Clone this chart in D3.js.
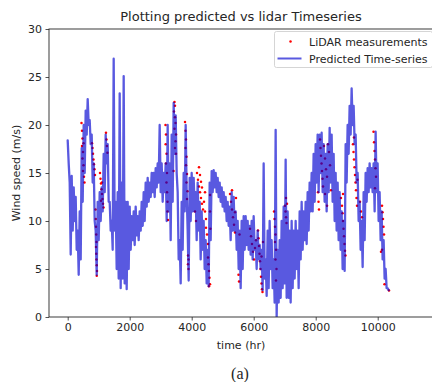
<!DOCTYPE html>
<html>
<head>
<meta charset="utf-8">
<script src="https://cdn.jsdelivr.net/npm/d3@7"></script>
<style>
  body { margin: 0; background: #fff; }
  svg { display: block; }
  text { font-family: "DejaVu Sans", sans-serif; fill: #262626; }
</style>
</head>
<body>
<svg id="chart" width="432" height="382"></svg>
<script>
// Axis ticks
const xTicks = [0, 2000, 4000, 6000, 8000, 10000];
const yTicks = [0, 5, 10, 15, 20, 25, 30];

// Predicted wind speed (m/s), one value every sampleStepHr hours from t = 0
const sampleStepHr = 32.25;
const predictedSpeed = [
  18.4,16.0, 14.0,6.5, 14.7,9.0, 13.5,10.0, 12.5,7.0, 9.0,4.4, 11.0,6.0, 17.6,12.0, 20.0,15.0, 21.5,19.0,
  22.7,20.0, 20.5,18.0, 19.0,14.0, 16.0,10.0, 9.0,4.4, 12.0,8.0, 13.0,10.0, 13.5,11.0, 17.0,13.0, 19.0,16.0,
  18.0,12.0, 12.0,9.0, 10.0,7.0, 26.9,9.0, 12.0,5.0, 13.0,4.0, 23.3,3.0, 14.0,4.0, 25.1,3.5, 12.0,2.9,
  12.0,5.0, 11.5,7.0, 10.5,8.0, 11.0,7.5, 11.5,8.5, 10.5,8.0, 11.0,9.0, 12.0,9.5, 13.0,10.0, 14.0,11.5,
  14.5,12.0, 14.0,12.5, 15.0,13.0, 15.0,12.5, 15.5,13.5, 16.0,14.0, 20.0,13.0, 16.0,12.0, 15.0,13.0, 16.0,10.0,
  20.0,11.0, 16.0,8.0, 19.0,12.0, 22.3,17.0, 21.0,15.0, 13.0,6.0, 8.0,3.5, 12.0,7.0, 15.0,11.0, 20.0,13.0,
  9.0,3.8, 14.5,10.0, 15.0,11.0, 14.5,11.0, 13.0,8.0, 14.0,9.0, 12.0,6.0, 11.0,7.0, 10.0,5.0, 8.0,3.5,
  7.0,3.2, 14.0,8.0, 15.2,13.0, 15.3,13.5, 15.0,13.0, 14.5,12.5, 14.0,12.0, 13.5,11.5, 13.0,11.0, 12.5,10.0,
  12.0,9.5, 11.5,8.0, 13.0,9.0, 12.5,9.0, 11.0,7.0, 10.0,5.0, 9.0,3.0, 10.0,5.0, 10.5,7.0, 10.5,7.5,
  10.0,7.0, 9.5,6.5, 10.0,6.0, 10.5,7.0, 8.0,5.0, 9.0,6.0, 7.5,5.0, 7.0,2.8, 16.0,4.0, 6.0,2.2,
  9.0,3.0, 10.0,5.0, 8.0,3.0, 6.0,1.5, 19.5,0.0, 7.0,1.5, 8.0,2.0, 10.0,3.0, 11.5,3.5, 16.4,2.0,
  11.0,2.0, 9.0,1.5, 10.0,3.0, 9.0,4.0, 10.0,5.0, 9.0,3.0, 11.0,6.0, 12.0,7.0, 11.0,8.0, 12.0,7.6,
  13.0,9.0, 14.0,11.0, 15.0,11.0, 17.0,12.0, 18.0,14.0, 19.0,13.0, 19.0,15.0, 19.2,13.0, 18.0,12.0, 17.0,11.0,
  18.0,13.0, 19.7,14.0, 19.0,12.0, 17.0,10.0, 15.0,9.0, 14.0,8.0, 13.0,7.0, 11.0,5.0, 10.0,4.8, 18.0,14.0,
  20.0,17.0, 22.0,19.0, 23.8,20.0, 22.0,18.0, 19.0,14.0, 15.0,10.0, 12.0,7.0, 10.0,5.2, 13.0,8.0, 15.0,12.0,
  15.5,13.0, 16.0,13.5, 15.5,13.0, 16.0,11.0, 19.3,13.0, 16.0,10.0, 13.0,8.0, 11.0,6.0, 8.0,4.0, 5.0,3.0,
  3.0,2.8
];

// LiDAR measurements: time (hr) and wind speed (m/s)
const lidarTime = [
  445,461,477,461,494,477,510,494,526,542,510,
  784,800,816,832,848,864,881,
  897,905,913,921,929,913,921,929,937,945,937,
  1042,1058,1074,1090,1106,1122,1139,1155,1074,1106,
  1235,1250,1266,1282,
  3155,3171,3160,3187,3171,3203,3187,3203,3219,3219,3235,
  3445,3461,3429,3461,3478,3445,3494,3478,3461,3494,3413,
  3784,3800,3816,3800,3832,3816,3848,3832,3864,3848,3881,3881,3897,3897,
  4106,4138,4171,4203,4235,4268,4300,4332,4365,4235,4268,4300,4332,4397,4429,4461,4429,4461,4494,4526,
  4526,4542,4558,4574,4590,4558,4590,4590,4603,
  5235,5268,5300,5332,5365,5397,5300,5429,5397,
  5526,5510,5542,
  5881,5913,5945,5977,6010,6042,6074,
  6139,6155,6171,6187,6203,6220,6236,6252,6268,6284,6252,6300,
  6655,6671,6687,6703,6687,6719,6703,6735,6719,
  7010,7026,7042,7058,7042,7074,
  8074,8090,8106,8139,8155,8171,8187,8203,8220,8236,8268,8300,8332,8365,8397,8429,8461,8300,8365,8494,
  8816,8848,8864,8881,8897,8913,8929,8945,8961,8881,
  9203,9219,9235,9252,9268,9284,9300,9316,9332,9235,9348,
  9429,9461,9494,
  9865,9881,9897,9913,9929,9945,9913,
  10139,10155,10171,10187,10203,10106,10139,10219,
  10365
];
const lidarSpeed = [
  20.2,19.4,18.6,17.8,17.2,16.5,15.8,15.2,14.6,14.0,18.1,
  18.1,17.6,17.0,16.4,15.9,15.4,14.8,
  11.2,10.2,9.4,8.6,7.8,7.3,6.6,6.0,5.4,4.8,4.3,
  15.0,14.4,13.9,13.3,12.8,12.3,11.8,11.4,12.1,14.0,
  19.2,18.5,17.8,17.1,
  20.0,19.0,18.0,17.0,16.0,15.0,14.0,13.0,12.0,11.0,10.1,
  22.4,22.0,21.4,20.8,20.2,19.6,19.0,18.3,17.6,17.0,15.2,
  20.3,19.4,18.5,17.6,16.7,15.8,14.9,14.0,13.1,12.3,6.4,5.5,5.0,6.0,
  11.0,10.0,15.0,14.3,13.6,13.0,12.4,11.8,11.2,15.6,14.8,14.1,13.5,12.0,11.0,10.2,13.0,9.3,8.6,7.6,
  6.2,5.5,4.8,4.1,3.4,3.2,12.7,11.0,9.2,
  12.8,12.0,11.2,10.4,9.6,8.8,13.2,12.4,10.9,
  3.7,4.4,8.6,
  9.2,8.4,7.6,6.8,6.0,7.2,8.0,
  9.0,8.2,7.4,6.6,5.8,5.0,4.2,3.5,2.9,2.6,6.3,7.8,
  11.0,10.2,9.4,8.6,7.8,7.0,6.0,5.0,3.8,
  11.6,11.0,10.4,9.8,12.4,11.8,
  13.0,12.0,11.2,18.5,17.6,16.8,16.0,15.2,14.4,13.6,17.8,16.5,15.4,14.6,18.0,17.2,15.8,12.8,11.6,13.2,
  12.4,11.6,10.8,10.0,9.2,8.4,7.6,6.9,6.4,12.8,
  18.0,17.2,16.4,15.6,14.8,14.0,13.2,12.4,11.6,18.7,14.3,
  12.0,11.0,10.4,
  19.3,18.2,17.3,16.4,15.5,14.6,13.4,
  11.6,10.9,10.2,9.4,8.6,6.8,7.0,3.4,
  2.75
];

const legendLabels = ["LiDAR measurements", "Predicted Time-series"];

const lineColor = "#0000d0";
const lineOpacity = 0.65;
const dotColor = "#ff0000";

const svg = d3.select("#chart");
const plot = { left: 49, top: 29, right: 435, bottom: 317 };

const x = d3.scaleLinear().domain([-603, 11848]).range([plot.left, plot.right]);
const y = d3.scaleLinear().domain([0, 30]).range([plot.bottom, plot.top]);

svg.append("defs").append("clipPath").attr("id", "plot-clip")
  .append("rect")
  .attr("x", plot.left).attr("y", plot.top)
  .attr("width", plot.right - plot.left).attr("height", plot.bottom - plot.top);

const area = svg.append("g").attr("clip-path", "url(#plot-clip)");

// LiDAR points sit underneath the translucent prediction line
area.append("g")
  .selectAll("circle")
  .data(lidarTime.map((t, i) => [t, lidarSpeed[i]]))
  .join("circle")
  .attr("cx", d => x(d[0]))
  .attr("cy", d => y(d[1]))
  .attr("r", 1.25)
  .attr("fill", dotColor);

const series = predictedSpeed.map((v, i) => [i * sampleStepHr, v]);
area.append("path")
  .datum(series)
  .attr("fill", "none")
  .attr("stroke", lineColor)
  .attr("stroke-opacity", lineOpacity)
  .attr("stroke-width", 2.3)
  .attr("stroke-linejoin", "round")
  .attr("stroke-linecap", "round")
  .attr("d", d3.line().x(d => x(d[0])).y(d => y(d[1])));

// Axes
const xAxis = svg.append("g")
  .attr("transform", `translate(0,${plot.bottom})`)
  .call(d3.axisBottom(x).tickValues(xTicks).tickFormat(d3.format("d")).tickSize(3.5).tickPadding(3));
const yAxis = svg.append("g")
  .attr("transform", `translate(${plot.left},0)`)
  .call(d3.axisLeft(y).tickValues(yTicks).tickSize(3.5).tickPadding(3.5));

[xAxis, yAxis].forEach(g => {
  g.select(".domain").remove();
  g.selectAll(".tick line").attr("stroke", "#262626").attr("stroke-width", 0.8);
  g.selectAll(".tick text").attr("font-size", 11).attr("font-family", "DejaVu Sans, sans-serif").attr("fill", "#262626");
});

// Frame
svg.append("rect")
  .attr("x", plot.left).attr("y", plot.top)
  .attr("width", plot.right - plot.left).attr("height", plot.bottom - plot.top)
  .attr("fill", "none").attr("stroke", "#262626").attr("stroke-width", 0.9);

// Titles
svg.append("text")
  .attr("x", 241).attr("y", 21)
  .attr("text-anchor", "middle").attr("font-size", 13)
  .text("Plotting predicted vs lidar Timeseries");

svg.append("text")
  .attr("x", 241).attr("y", 349)
  .attr("text-anchor", "middle").attr("font-size", 11)
  .text("time (hr)");

svg.append("text")
  .attr("transform", `translate(20,${(plot.top + plot.bottom) / 2}) rotate(-90)`)
  .attr("text-anchor", "middle").attr("font-size", 11)
  .text("Wind speed (m/s)");

svg.append("text")
  .attr("x", 240).attr("y", 379)
  .attr("text-anchor", "middle").attr("font-size", 16)
  .style("font-family", "'Liberation Serif', 'DejaVu Serif', serif")
  .attr("fill", "#000")
  .text("(a)");

// Legend
const legend = svg.append("g").attr("transform", "translate(274.5,31.5)");
legend.append("rect")
  .attr("width", 158).attr("height", 36).attr("rx", 2)
  .attr("fill", "#fff").attr("fill-opacity", 0.85)
  .attr("stroke", "#d0d0d0").attr("stroke-width", 0.9);
legend.append("circle")
  .attr("cx", 16).attr("cy", 10).attr("r", 1.25).attr("fill", dotColor);
legend.append("line")
  .attr("x1", 3).attr("x2", 27).attr("y1", 27).attr("y2", 27)
  .attr("stroke", lineColor).attr("stroke-opacity", lineOpacity).attr("stroke-width", 2);
legend.selectAll("text.lbl")
  .data(legendLabels)
  .join("text")
  .attr("class", "lbl")
  .attr("x", 34.5)
  .attr("y", (d, i) => 14 + i * 17)
  .attr("font-size", 11)
  .text(d => d);
</script>
</body>
</html>
